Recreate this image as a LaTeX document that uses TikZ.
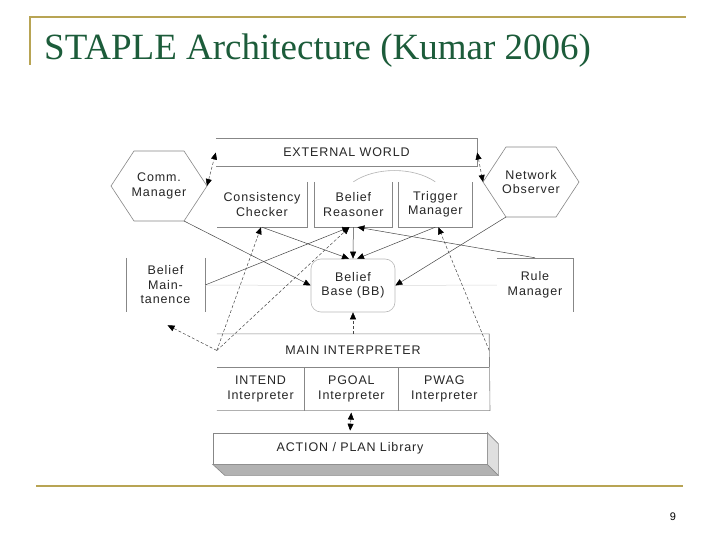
\documentclass[tikz,border=0pt]{standalone}
\usepackage{fontspec}
\setmainfont{Liberation Serif}
\newfontfamily\diagfont[LetterSpace=7]{Liberation Sans}
\newfontfamily\pagefont{Liberation Sans}
\usetikzlibrary{arrows.meta, positioning, calc}
\definecolor{slidegold}{RGB}{184,164,84}
\definecolor{slidegreen}{RGB}{28,92,58}
\definecolor{edgegray}{RGB}{135,135,135}
\definecolor{linkgray}{RGB}{70,70,70}

\begin{document}
\begin{tikzpicture}[
    x=1pt, y=-1pt,
    every node/.style={font=\diagfont\fontsize{12.5}{14.5}\selectfont, text=black!85, align=center, inner sep=0pt},
    cell/.style={rectangle, minimum height=#1},
    cell/.default=45,
    boxline/.style={draw=edgegray, line width=0.6pt},
    faint/.style={draw=gray!30, line width=0.5pt},
    goldrule/.style={draw=slidegold, line width=2.5pt},
    arrow/.style={draw=linkgray, line width=0.5pt, -{Triangle[length=7pt,width=6pt,color=black]}},
    dasharrow/.style={arrow, dash pattern=on 3pt off 2pt},
    twoway/.style={dasharrow, {Triangle[length=7pt,width=6pt,color=black]}-{Triangle[length=7pt,width=6pt,color=black]}},
]
    \fill[white] (0,0) rectangle (720,540);
    \useasboundingbox (0,0) rectangle (720,540);

    % slide frame and title
    \draw[goldrule] (30,65) -- (30,17) -- (686,17);
    \draw[goldrule] (36,486) -- (683,486);
    \node (title) [anchor=base west, font=\rmfamily\fontsize{37}{40}\selectfont, text=slidegreen] at (44,60) {STAPLE Architecture (Kumar 2006)};
    \node (pagenum) [font=\pagefont\fontsize{11}{13}\selectfont, text=black] at (673,517) {9};

    % upper blocks
    \node (ew) [cell=27, minimum width=261] at (346.5,152.5) {EXTERNAL WORLD};
    \node (cc) [cell, minimum width=90] at (262,204.5) {Consistency\\Checker};
    \node (br) [cell, minimum width=78, right=7pt of cc] {Belief\\Reasoner};
    \node (tm) [cell, minimum width=73, right=6pt of br] {Trigger\\Manager};
    \draw[boxline] (ew.north west) -- (ew.north east) -- (ew.south east) -- (ew.south west);
    \draw[boxline] (cc.north east) -- (cc.south east) -- (cc.south west);
    \draw[boxline] (br.north west) -- (br.south west) -- (br.south east) -- (br.north east);
    \draw[boxline] (tm.north west) -- (tm.south west) -- (tm.south east) -- (tm.north east);
    \draw[boxline, draw=gray!60] (br.north) .. controls +(22,-15) and +(-22,-15) .. (tm.north);

    % agents
    \node (comm) at (159,186) {Comm.\\Manager};
    \draw[boxline] ($(comm.center)+(-48,0)$) -- ++(23,-35) -- ++(50,0) -- ++(23,35) coordinate (comm-e)
        -- ++(-23,35) coordinate (comm-se) -- ++(-50,0) -- cycle;
    \node (netobs) at (531,182) {Network\\Observer};
    \draw[boxline] ($(netobs.center)+(-48,0)$) coordinate (netobs-w) -- ++(23,-35) -- ++(50,0) -- ++(23,35)
        -- ++(-23,35) -- ++(-50,0) coordinate (netobs-sw) -- cycle;

    % middle row
    \node (bm) [cell=54, minimum width=79] at (165.5,285) {Belief\\Main-\\tanence};
    \node (bb) [cell=53, minimum width=84, draw=gray!55, line width=0.6pt, rounded corners=10pt] at (353,285.5) {Belief\\Base (BB)};
    \node (rm) [cell=54, minimum width=76] at (535,285) {Rule\\Manager};
    \draw[boxline] (bm.north west) -- (bm.south west);
    \draw[boxline] (bm.north east) -- (bm.south east);
    \draw[boxline] (rm.north west) -- (rm.north east) -- (rm.south east);

    % interpreter
    \node (mi) [cell=33, minimum width=272] at (353,350.5) {MAIN INTERPRETER};
    \node (intend) [cell=43, minimum width=87, below right=0pt and 0pt of mi.south west] {INTEND\\Interpreter};
    \node (pgoal) [cell=43, minimum width=94, right=0pt of intend] {PGOAL\\Interpreter};
    \node (pwag) [cell=43, minimum width=91, right=0pt of pgoal] {PWAG\\Interpreter};
    \draw[boxline] (mi.north west) -- (mi.north east) -- (pwag.south east) -- (intend.south west);
    \draw[boxline] (mi.south west) -- (mi.south east);
    \draw[boxline] (intend.north east) -- (intend.south east);
    \draw[boxline] (pgoal.north east) -- (pgoal.south east);

    % library
    \node (lib) [cell=31, minimum width=274, draw=edgegray, line width=0.6pt, fill=white] at (350,448.5) {ACTION / PLAN Library};
    \filldraw[boxline, fill=gray!60] (lib.south west) -- ++(12,11) -- ($(lib.south east)+(11,11)$) -- (lib.south east) -- cycle;
    \filldraw[boxline, fill=gray!25] (lib.north east) -- ++(11,11) -- ($(lib.south east)+(11,11)$) -- (lib.south east) -- cycle;

    % links
    \draw[faint] (bm.east) -- (bb.west);
    \draw[faint] (bb.east) -- (rm.west);
    \draw[twoway] (comm-e) -- (ew.west);
    \draw[twoway] (ew.east) -- (netobs-w);
    \draw[arrow] (comm-se) -- (bb.west);
    \draw[arrow] (cc.south) -- ([xshift=-4pt]bb.north);
    \draw[arrow] (br.south) -- (bb.north);
    \draw[arrow] (tm.south) -- ([xshift=4pt]bb.north);
    \draw[arrow] (bm.east) -- ([xshift=-4pt]br.south);
    \draw[arrow] (rm.north) -- ([xshift=4pt]br.south);
    \draw[arrow] (netobs-sw) -- (bb.east);
    \draw[dasharrow] (mi.west) -- ([xshift=2pt,yshift=-13pt]bm.south);
    \draw[dasharrow] (mi.west) -- ([xshift=-1pt]cc.south);
    \draw[dasharrow] (mi.west) -- ([xshift=-4pt]br.south);
    \draw[dasharrow] (mi.north) -- (bb.south);
    \draw[dasharrow] (mi.east) -- ([xshift=3pt]tm.south);
    \draw[twoway, shorten <=2pt, shorten >=2pt] (pgoal.south) -- (lib.north);

\end{tikzpicture}
\end{document}
